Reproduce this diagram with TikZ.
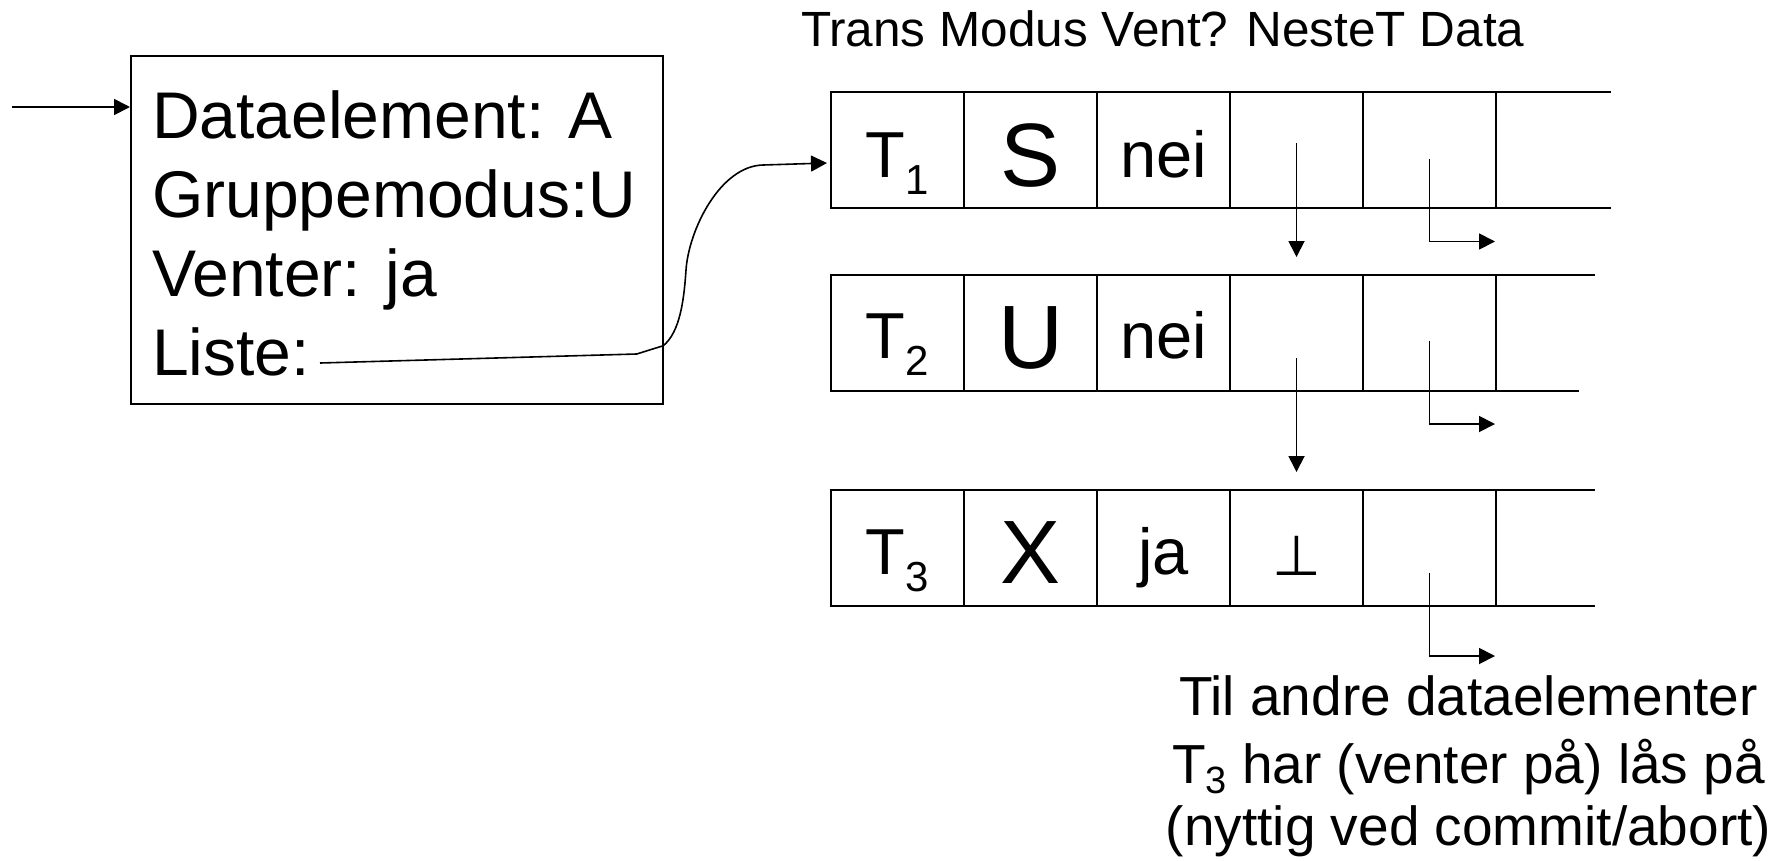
\documentclass[tikz,border=0pt]{standalone}
\usepackage{fontspec}
\setmainfont{Liberation Sans}
\newfontfamily\symfont{DejaVu Sans}
\usetikzlibrary{arrows.meta}
\newcommand\lsub[3]{\raisebox{-#2pt}{\fontsize{#1pt}{#1pt}\selectfont #3}}
\begin{document}
\begin{tikzpicture}[x=1pt,y=-1pt,
  cell/.style={draw, line width=2pt, minimum width=133pt, minimum height=116pt, inner sep=0pt, outer sep=0pt},
  txt/.style={inner sep=0pt, outer sep=0pt, anchor=base},
  ltxt/.style={inner sep=0pt, outer sep=0pt, anchor=base west},
  fbox/.style={font=\fontsize{66pt}{66pt}\selectfont},
  fcell/.style={font=\fontsize{65pt}{65pt}\selectfont},
  fbig/.style={font=\fontsize{90pt}{90pt}\selectfont},
  fhead/.style={font=\fontsize{49.5pt}{49.5pt}\selectfont},
  fnote/.style={font=\fontsize{55pt}{55pt}\selectfont},
  fsym/.style={font=\symfont\fontsize{56pt}{56pt}\selectfont},
  arr/.style={-{Triangle[length=16pt,width=16pt]}, line width=1.8pt},
  thin/.style={line width=2pt}
]
\useasboundingbox (0,0) rectangle (1785,860);

% header
\node[ltxt,fhead] (head) at (801,46.7) {Trans Modus Vent? NesteT Data};

% data element box
\node[draw, line width=2pt, minimum width=532pt, minimum height=348pt, inner sep=0pt] (box) at (397,230) {};
\node[ltxt,fbox] (d1) at (152,138.3) {Dataelement: A};
\node[ltxt,fbox] (d2) at (152,217.2) {Gruppemodus:U};
\node[ltxt,fbox] (d3) at (152,296.1) {Venter: ja};
\node[ltxt,fbox] (liste) at (152,375) {Liste:};

% incoming arrow
\coordinate (in0) at (12,107);
\draw[arr] (in0) -- (in0 -| box.west);

% table cells
\foreach \r/\y in {1/150, 2/333, 3/548} {
  \foreach \c/\x in {1/897.5, 2/1030.5, 3/1163.5, 4/1296.5, 5/1429.5} {
    \node[cell] (r\r c\c) at (\x,\y) {};
  }
}
% open ends
\draw[thin] (r1c5.north east) -- ++(115,0);
\draw[thin] (r1c5.south east) -- ++(115,0);
\draw[thin] (r2c5.north east) -- ++(98.5,0);
\draw[thin] (r2c5.south east) -- ++(83,0);
\draw[thin] (r3c5.north east) -- ++(98.5,0);
\draw[thin] (r3c5.south east) -- ++(98.5,0);

% cell texts
\node[txt,fcell] (t1) at ([yshift=-27pt]r1c1.center) {T\lsub{42}{17}{1}};
\node[txt,fbig] (m1) at ([yshift=-36pt]r1c2.center) {S};
\node[txt,fcell] (v1) at ([yshift=-27pt]r1c3.center) {nei};
\node[txt,fcell] (t2) at ([yshift=-25pt]r2c1.center) {T\lsub{42}{17}{2}};
\node[txt,fbig] (m2) at ([yshift=-35pt]r2c2.center) {U};
\node[txt,fcell] (v2) at ([yshift=-25pt]r2c3.center) {nei};
\node[txt,fcell] (t3) at ([yshift=-26pt]r3c1.center) {T\lsub{42}{17}{3}};
\node[txt,fbig] (m3) at ([yshift=-35pt]r3c2.center) {X};
\node[txt,fcell] (v3) at ([yshift=-26pt]r3c3.center) {ja};
\node[txt,fsym] (n3) at ([yshift=-27pt]r3c4.center) {⊥};

% Liste pointer
\coordinate (l0) at (320,363);
\coordinate (l1) at (636.7,354);
\coordinate (l2) at (663.3,345.7);
\coordinate (l3) at (686,270);
\coordinate (l4) at (763,165);
\draw[arr, line width=1.6pt] (l0) -- (l1) -- (l2)
  .. controls (680,332) and (684,300) .. (l3)
  .. controls (688.7,230) and (720,166) .. (l4)
  -- ([xshift=-4pt,yshift=-13pt]r1c1.west);

% NesteT arrows
\draw[arr] ([yshift=7pt]r1c4.center) -- ([yshift=18pt]r2c4.north);
\draw[arr] ([yshift=-25pt]r2c4.center) -- ([yshift=18pt]r3c4.north);

% Data arrows
\coordinate (e1) at (1495,241.5);
\coordinate (e2) at (1495,424);
\coordinate (e3) at (1495,656);
\draw[arr] ([yshift=-9pt]r1c5.center) |- (e1);
\draw[arr] ([yshift=-8pt]r2c5.center) |- (e2);
\draw[arr] ([yshift=-25pt]r3c5.center) |- (e3);

% note
\node[txt,fnote] (note1) at (1468.5,715) {Til andre dataelementer};
\node[txt,fnote] (note2) at (1468.5,783) {T\lsub{38}{10}{3} har (venter på) lås på};
\node[txt,fnote] (note3) at (1468.5,845) {(nyttig ved commit/abort)};
\end{tikzpicture}
\end{document}
